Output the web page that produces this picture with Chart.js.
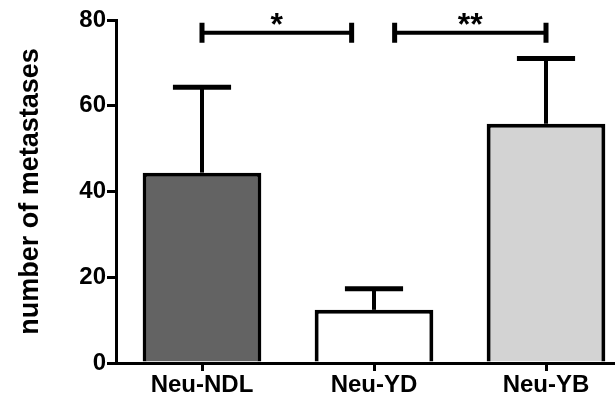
<!DOCTYPE html>
<html><head><meta charset="utf-8">
<script src="https://cdn.jsdelivr.net/npm/chart.js@4"></script>
<style>
html,body{margin:0;padding:0;background:#fff;overflow:hidden;width:615px;height:403px}
canvas{display:block}
</style></head>
<body>
<canvas id="c" width="632" height="403"></canvas>
<script>
// data
const groups = ['Neu-NDL', 'Neu-YD', 'Neu-YB'];
const means = [44.4, 12.4, 55.8];
const upperErr = [64.3, 17.3, 71.0];   // top of the (one-sided) error bar
const fills = ['#636363', '#ffffff', '#d3d3d3'];
const yTicks = [0, 20, 40, 60, 80];
// significance brackets, in category-index units
const sigFrom = [0, 1.12];
const sigTo = [0.87, 2];
const sigLevel = [77, 77];
const sigMark = ['*', '**'];

const FONT = 'Liberation Sans, Arial, sans-serif';

const annot = {
  id: 'annot',
  afterDatasetsDraw(chart){
    const ctx = chart.ctx, xs = chart.scales.x, ys = chart.scales.y;
    const meta = chart.getDatasetMeta(0);
    ctx.save();
    ctx.strokeStyle = '#000';
    ctx.fillStyle = '#000';
    // error bars
    meta.data.forEach((bar, i) => {
      const top = ys.getPixelForValue(upperErr[i]);
      const half = bar.width * 0.245;
      ctx.lineWidth = 4;
      ctx.beginPath(); ctx.moveTo(bar.x, bar.y); ctx.lineTo(bar.x, top); ctx.stroke();
      ctx.lineWidth = 5;
      ctx.beginPath(); ctx.moveTo(bar.x - half, top); ctx.lineTo(bar.x + half, top); ctx.stroke();
    });
    // brackets + stars
    sigFrom.forEach((f, i) => {
      const x1 = xs.getPixelForValue(f), x2 = xs.getPixelForValue(sigTo[i]);
      const yy = ys.getPixelForValue(sigLevel[i]);
      ctx.lineWidth = 4;
      ctx.beginPath(); ctx.moveTo(x1, yy); ctx.lineTo(x2, yy); ctx.stroke();
      ctx.lineWidth = 5;
      ctx.beginPath();
      ctx.moveTo(x1, yy - 10); ctx.lineTo(x1, yy + 10);
      ctx.moveTo(x2, yy - 10); ctx.lineTo(x2, yy + 10);
      ctx.stroke();
      ctx.font = 'bold 32px ' + FONT;
      ctx.textAlign = 'center';
      ctx.textBaseline = 'alphabetic';
      ctx.fillText(sigMark[i], (x1 + x2) / 2, yy + 2);
    });
    ctx.restore();
  }
};

new Chart(document.getElementById('c'), {
  type: 'bar',
  data: {
    labels: groups,
    datasets: [{
      data: means,
      backgroundColor: fills,
      borderColor: '#000',
      borderWidth: 4,
      borderSkipped: 'bottom',
      categoryPercentage: 1,
      barPercentage: 0.69
    }]
  },
  options: {
    responsive: false,
    animation: false,
    layout: {padding: {top: 20, right: 0, left: 0, bottom: 0}},
    plugins: {legend: {display: false}, tooltip: {enabled: false}},
    scales: {
      x: {
        z: 1,
        grid: {display: true, drawOnChartArea: false, offset: false, color: '#000', lineWidth: 3, tickLength: 8},
        border: {display: true, color: '#000', width: 3},
        ticks: {color: '#000', font: {family: FONT, size: 24, weight: 'bold'}, padding: 0, maxRotation: 0},
        afterFit: s => { s.height = 40; }
      },
      y: {
        min: 0, max: 80,
        afterBuildTicks: s => { s.ticks = yTicks.map(v => ({value: v})); },
        grid: {display: true, drawOnChartArea: false, color: '#000', lineWidth: 3, tickLength: 9},
        border: {display: true, color: '#000', width: 3},
        ticks: {color: '#000', font: {family: FONT, size: 24, weight: 'bold'}, padding: 1},
        title: {display: true, text: 'number of metastases', color: '#000',
                font: {family: FONT, size: 27, weight: 'bold'}, padding: {top: 14, bottom: 0}},
        afterFit: s => { s.width = 116; }
      }
    }
  },
  plugins: [annot]
});
</script>
</body></html>
